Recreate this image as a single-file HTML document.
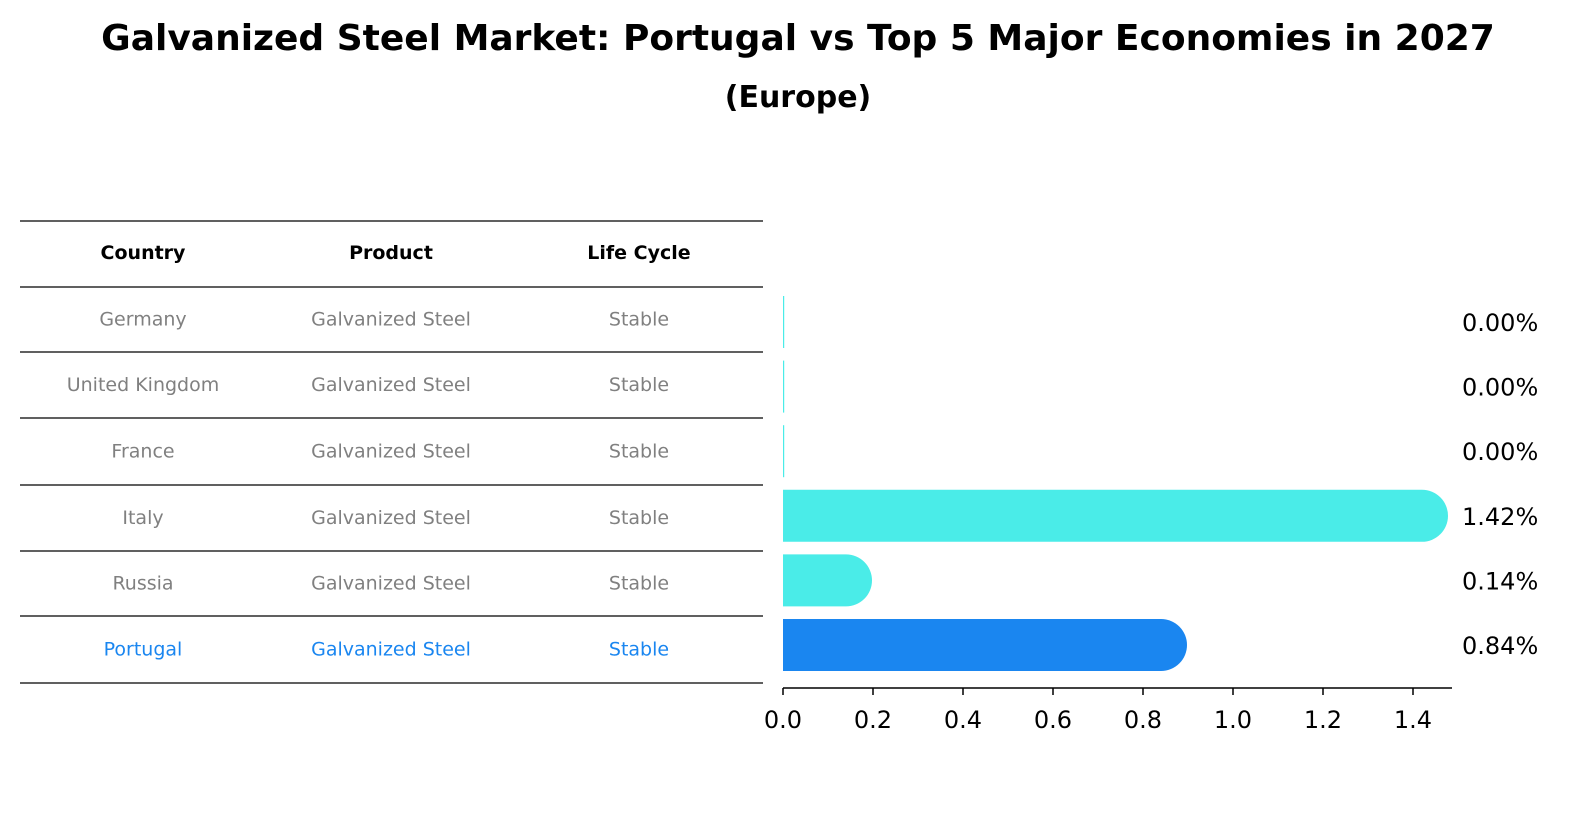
<!DOCTYPE html>
<html><head><meta charset="utf-8"><style>
body{margin:0;background:#fff;font-family:"Liberation Sans","DejaVu Sans",sans-serif;}
#wrap{position:relative;width:1586px;height:823px;overflow:hidden;}
.t{position:absolute;white-space:nowrap;}
</style></head><body>
<div id="wrap">
<div class="t" style="left:0;width:1596px;text-align:center;top:18px;font-size:36px;font-weight:bold;font-family:'DejaVu Sans',sans-serif;">Galvanized Steel Market: Portugal vs Top 5 Major Economies in 2027</div>
<div class="t" style="left:0;width:1596px;text-align:center;top:80px;font-size:30px;font-weight:bold;font-family:'DejaVu Sans',sans-serif;">(Europe)</div>
<svg id="svg" width="1586" height="823" style="position:absolute;left:0;top:0"></svg>
</div>
<script>
const countries=["Germany","United Kingdom","France","Italy","Russia","Portugal"];
const products=["Galvanized Steel","Galvanized Steel","Galvanized Steel","Galvanized Steel","Galvanized Steel","Galvanized Steel"];
const lifecycles=["Stable","Stable","Stable","Stable","Stable","Stable"];
const values=[0.00,0.00,0.00,1.42,0.14,0.84];
const ticks=[0,0.2,0.4,0.6,0.8,1.0,1.2,1.4];
const NS="http://www.w3.org/2000/svg";
const svg=document.getElementById('svg');
function mk(t,a,txt){const e=document.createElementNS(NS,t);for(const k in a)e.setAttribute(k,a[k]);if(txt!==undefined)e.textContent=txt;svg.appendChild(e);return e;}
const x0=783,pxPer=450;
function xs(v){return x0+v*pxPer;}
function yc(i){return 322+i*64.6;}
const barH=52;
// table
const rowLines=[221,287,352,418,485,551,616,683];
const colX=[143,391,639];
rowLines.forEach((y,i)=>{const l=mk('line',{x1:20,x2:763,y1:y,y2:y,stroke:'#000','stroke-width':1.2});

});
["Country","Product","Life Cycle"].forEach((h,j)=>{const e=mk('text',{x:colX[j],y:259,'text-anchor':'middle','font-size':19,'font-weight':'bold','font-family':'DejaVu Sans, sans-serif'},h);

});
countries.forEach((c,i)=>{const y=(rowLines[i+1]+rowLines[i+2])/2+6;const col=i===5?'#1a86f0':'#808080';
[c,products[i],lifecycles[i]].forEach((txt,j)=>{const e=mk('text',{x:colX[j],y:y,'text-anchor':'middle','font-size':19,fill:col,'font-family':'DejaVu Sans, sans-serif'},txt);

});});
// bars
values.forEach((v,i)=>{const col=i===5?'#1a86f0':'#4aece8';const y=yc(i)-barH/2;const w=Math.max(xs(v)-x0,1.2);
const r=barH/2;let d;
if(w>barH){d=`M${x0},${y} H${x0+w} A${r},${r} 0 0 1 ${x0+w},${y+barH} H${x0} Z`;}
else{d=`M${x0},${y} H${x0+w} V${y+barH} H${x0} Z`;}
const b=mk('path',{d:d,fill:col});


const lb=mk('text',{x:1462,y:yc(i)+9,'font-size':24,'font-family':'DejaVu Sans, sans-serif'},v.toFixed(2)+'%');

});
// axis
const ax=mk('line',{x1:x0,x2:1452,y1:688,y2:688,stroke:'#000','stroke-width':1.5});


ticks.forEach(t=>{const tl=mk('line',{x1:xs(t),x2:xs(t),y1:688,y2:695,stroke:'#000','stroke-width':1.5});


const tx=mk('text',{x:xs(t),y:728,'text-anchor':'middle','font-size':24,'font-family':'DejaVu Sans, sans-serif'},t.toFixed(1));

});
</script>
</body></html>
